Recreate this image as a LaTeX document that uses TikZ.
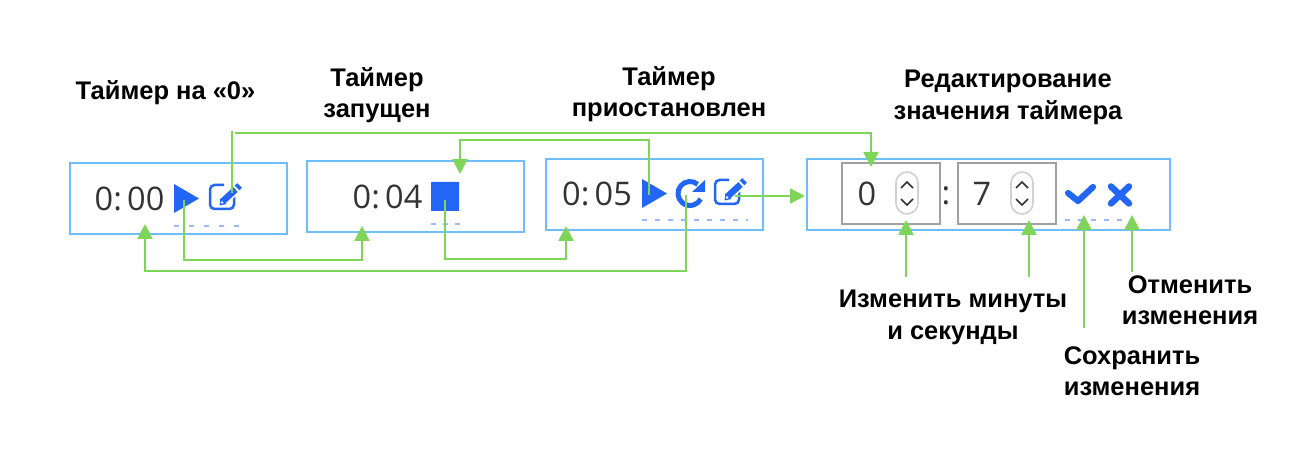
\documentclass[tikz,border=0pt]{standalone}
\usepackage{fontspec}
\setmainfont{Liberation Sans}
\newfontfamily\digitfont{Open Sans}
\usetikzlibrary{arrows.meta,positioning,calc}
\definecolor{panelline}{HTML}{6DBEF9}
\definecolor{flowline}{HTML}{7FD45A}
\definecolor{iconblue}{HTML}{2366F5}
\definecolor{dashblue}{HTML}{9DB8FA}
\definecolor{fieldline}{HTML}{A0A0A0}
\definecolor{digitgrey}{HTML}{333333}
\definecolor{pillline}{HTML}{D2D2D2}
\newcommand{\clock}[2]{#1:\kern3pt#2}
\tikzset{
  panel/.style={rectangle, draw=panelline, line width=0.45mm, minimum height=14.2mm},
  field/.style={rectangle, draw=fieldline, line width=0.55mm, minimum width=19.6mm, minimum height=12.2mm},
  pill/.style={rectangle, rounded corners=2.2mm, draw=pillline, line width=0.35mm,
    minimum width=4.4mm, minimum height=8.4mm, inner sep=0pt},
  digits/.style={font=\digitfont\fontsize{18.5}{20}\selectfont, text=digitgrey, inner sep=0pt},
  title/.style={font=\bfseries\fontsize{14.5}{17.8}\selectfont, align=center, inner sep=0pt},
  flow/.style={-{Triangle[length=3mm,width=3mm]}, line width=0.5mm, draw=flowline, fill=none},
  wire/.style={line width=0.5mm, draw=flowline},
  hint/.style={draw=dashblue, line width=0.4mm},
  chevron/.style={draw=digitgrey, line width=0.3mm},
  playicon/.pic={\fill[iconblue] (0,0) -- (25,14.5) -- (0,29) -- cycle;},
  stopicon/.pic={\fill[iconblue, rounded corners=0.1mm] (0,0) rectangle (28,29);},
  editicon/.pic={
    \draw[iconblue, line width=0.5mm, rounded corners=0.9mm]
      (15,1) -- (1,1) -- (1,25) -- (25,25) -- (25,13);
    \draw[white, line width=2mm] (13,18) -- (28,4);
    \draw[iconblue, line width=1.3mm] (13,18) -- (26.5,5.5);
    \draw[iconblue, line width=1.3mm] (28,4) -- (30.5,1.5);
    \fill[iconblue] (10.5,21.5) -- (11.5,14.5) -- (17.5,20) -- cycle;
    \fill[white] (13,18.5) circle (1.4);
  },
  reloadicon/.pic={
    \draw[iconblue, line width=1mm] (-50:12) arc[start angle=-50, end angle=-333, radius=12];
    \fill[iconblue] (15,-13.5) -- (15,-1.5) -- (2,-1.5) -- cycle;
  },
  saveicon/.pic={\draw[iconblue, line width=1.25mm, line cap=round, line join=round]
    (0,0) -- (10,8) -- (25,-6);},
  cancelicon/.pic={\draw[iconblue, line width=1.3mm, line cap=round]
    (-9,-8.5) -- (9,8.5) (-9,8.5) -- (9,-8.5);},
  spinnerarrows/.pic={
    \draw[chevron] (-6,-9) -- (0,-15) -- (6,-9);
    \draw[chevron] (-6,2) -- (0,8) -- (6,2);
  },
}

\begin{document}
\begin{tikzpicture}[x=0.2mm,y=-0.2mm]
\useasboundingbox (0,0) rectangle (1306,460);

% ---- Titles ----
\node[title] (t_idle) at (165.5,93) {Таймер на «0»};
\node[title] (t_run) at (377,95) {Таймер\\запущен};
\node[title] (t_pause) at (669,94.5) {Таймер\\приостановлен};
\node[title] (t_edit) at (1008,97.5) {Редактирование\\значения таймера};

% ---- Panels ----
\node[panel, minimum width=43.4mm] (idle) at (178.5,198.5) {};
\node[panel, minimum width=43.4mm] (run) at (415.5,196.5) {};
\node[panel, minimum width=43.4mm] (pause) at (654.5,194.5) {};
\node[panel, minimum width=72.6mm] (edit) at (988.5,194.5) {};

% ---- Panel contents ----
\node[digits] (d_idle) at (129.5,198.5) {\clock{0}{00}};
\node[digits] (d_run) at (387.5,197) {\clock{0}{04}};
\node[digits] (d_pause) at (597,193.5) {\clock{0}{05}};
\pic at (174,184) {playicon};
\pic at (209,184) {editicon};
\pic at (431,182) {stopicon};
\pic at (642,179) {playicon};
\pic at (690,193.5) {reloadicon};
\pic at (714,179) {editicon};

\node[field] (f_min) at (891,193.5) {};
\node[field] (f_sec) at (1007,193.5) {};
\node[digits] (d_min) at (867,193.5) {0};
\node[digits] (d_sec) at (982,193.5) {7};
\node[digits] (d_colon) at (946,196) {:};
\node[pill] (p_min) at (907,193) {};
\node[pill] (p_sec) at (1022,193) {};
\pic at (907,197) {spinnerarrows};
\pic at (1022,197) {spinnerarrows};
\pic at (1068,193) {saveicon};
\pic at (1120,195) {cancelicon};

% Dashed hints under the active icons.
\foreach \xa/\xb/\yy/\gap in {174/241.6/226/2mm, 431/460/224/1.4mm, 642/748/220/1.6mm, 1065/1123/220/1.6mm}
  \draw[hint, dash pattern=on 1mm off \gap] (\xa,\yy) -- (\xb,\yy);

% ---- Connector ends ----
\coordinate (editidle) at (232,193);
\coordinate (editbend) at (232,131);
\coordinate (editout) at (235,133);
\coordinate (toedit) at (871,167);
\coordinate (playidle) at (184,200);
\coordinate (torun) at (362,226);
\coordinate (reload) at (686,195);
\coordinate (toidle) at (145,224);
\coordinate (stoprun) at (445,200);
\coordinate (topause) at (566,226);
\coordinate (playpause) at (649,195);
\coordinate (backrun) at (460,174);
\coordinate (editpause) at (735,196);
\coordinate (toform) at (805,196);

% ---- State changes ----
\draw[wire] (editidle) -- (editbend);
\draw[flow] (editout) -| (toedit);
\draw[flow] (playidle) |- (300,260) -| (torun);
\draw[flow] (reload) |- (400,271) -| (toidle);
\draw[flow] (stoprun) |- (500,259) -| (topause);
\draw[flow] (playpause) |- (550,140) -| (backrun);
\draw[flow] (editpause) -- (toform);

% ---- Form labels ----
\node[title] (l_time) at (953,317.5) {Изменить минуты\\и секунды};
\node[title] (l_cancel) at (1190,300) {Отменить\\изменения};
\node[title] (l_save) at (1132,371) {Сохранить\\изменения};

\coordinate (timemin) at (906,277);
\coordinate (timesec) at (1029,277);
\coordinate (savefrom) at (1084,328);
\coordinate (cancelfrom) at (1132,272);
\draw[flow] (timemin) -- (906,220);
\draw[flow] (timesec) -- (1029,220);
\draw[flow] (savefrom) -- (1084,215);
\draw[flow] (cancelfrom) -- (1132,215);

\end{tikzpicture}
\end{document}
